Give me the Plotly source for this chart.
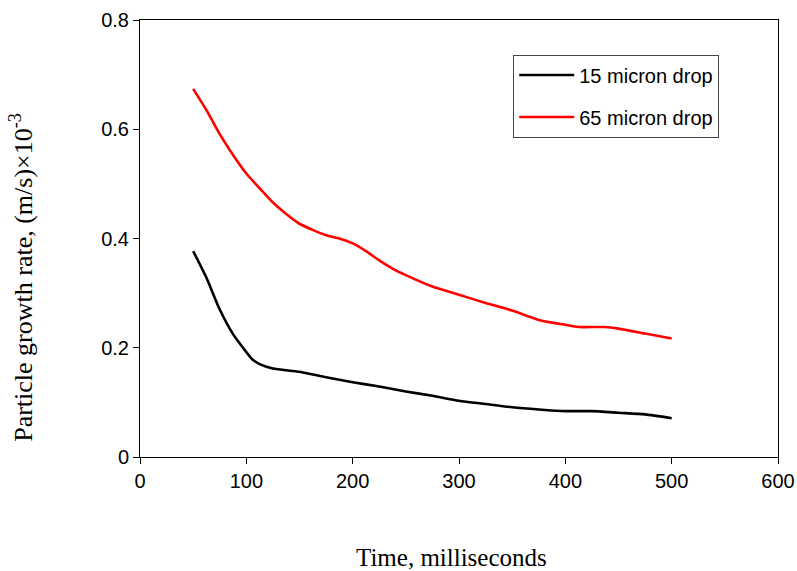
import plotly.graph_objects as go

# Data
time_15 = [50, 62.5, 75, 87.5, 100, 105, 112.5, 125, 150, 175, 200, 225, 250, 275, 300,
           325, 350, 375, 400, 425, 450, 475, 500]
rate_15 = [0.377, 0.328, 0.270, 0.225, 0.192, 0.180, 0.170, 0.162, 0.156, 0.146, 0.137,
           0.129, 0.120, 0.112, 0.103, 0.097, 0.091, 0.087, 0.084, 0.084, 0.081, 0.078, 0.071]

time_65 = [50, 62.5, 75, 87.5, 100, 112.5, 125, 137.5, 150, 175, 187.5, 200, 212.5, 225,
           237.5, 250, 275, 300, 325, 350, 375, 400, 412.5, 437.5, 450, 475, 500]
rate_65 = [0.674, 0.635, 0.591, 0.553, 0.519, 0.492, 0.466, 0.445, 0.427, 0.406, 0.400,
           0.391, 0.377, 0.360, 0.345, 0.333, 0.312, 0.297, 0.282, 0.268, 0.251, 0.242,
           0.238, 0.238, 0.235, 0.226, 0.217]

series_names = ["15 micron drop", "65 micron drop"]
x_ticks = [0, 100, 200, 300, 400, 500, 600]
y_ticks = [0, 0.2, 0.4, 0.6, 0.8]
y_tick_text = ["0", "0.2", "0.4", "0.6", "0.8"]
x_title = "Time, milliseconds"
y_title = "Particle growth rate, (m/s)×10<sup>-3</sup>"

fig = go.Figure()
fig.add_trace(go.Scatter(x=time_15, y=rate_15, mode="lines", name=series_names[0],
                         legendgroup="a",
                         line=dict(color="black", width=2.6, shape="spline", smoothing=0.6)))
fig.add_trace(go.Scatter(x=time_65, y=rate_65, mode="lines", name=series_names[1],
                         legendgroup="b",
                         line=dict(color="#ff0000", width=2.6, shape="spline", smoothing=0.6)))

axis_common = dict(showline=True, linecolor="black", linewidth=1, mirror=True,
                   ticks="outside", ticklen=6, tickcolor="black", tickwidth=1,
                   showgrid=False, zeroline=False, automargin=False,
                   tickfont=dict(family="Liberation Sans, Arial", size=20, color="black"))

title_font = dict(family="Liberation Serif, Times New Roman", color="black")

fig.update_layout(
    width=797, height=571,
    margin=dict(l=140, r=19, t=20, b=114),
    paper_bgcolor="white", plot_bgcolor="white",
    showlegend=True,
    legend=dict(x=0.585, y=0.921, xanchor="left", yanchor="top",
                bordercolor="#444444", borderwidth=1, bgcolor="white",
                tracegroupgap=13, itemwidth=55,
                font=dict(family="Liberation Sans, Arial", size=20, color="black")),
    xaxis=dict(range=[0, 600], tickvals=x_ticks, **axis_common),
    yaxis=dict(range=[0, 0.8], tickvals=y_ticks, ticktext=y_tick_text, **axis_common),
    annotations=[
        dict(text=x_title, xref="paper", yref="paper", x=0.488, y=0,
             xanchor="center", yanchor="middle", yshift=-100, showarrow=False,
             font=dict(size=25, **title_font)),
        dict(text=y_title, xref="paper", yref="paper", x=0, y=0.41,
             xanchor="center", yanchor="middle", xshift=-118, textangle=-90,
             showarrow=False, font=dict(size=26, **title_font)),
    ],
)

fig.write_html("out.html", config={"displayModeBar": False},
               post_script="document.body.style.margin='0';document.body.style.overflow='hidden';")
